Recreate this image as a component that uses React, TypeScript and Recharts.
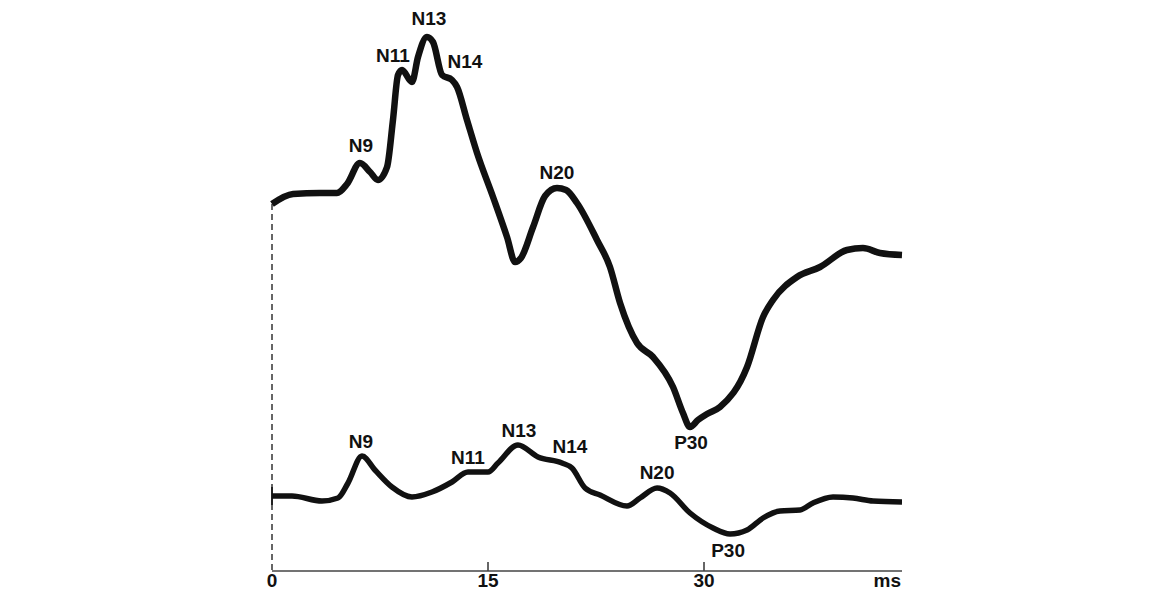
import React from 'react';
import { LineChart, Line, XAxis, YAxis, ReferenceLine, ReferenceDot } from 'recharts';

// upper trace (ms, amplitude in arbitrary units)
const upperT = [0, 1.46, 3.33, 4.51, 5.21, 6.11, 6.81, 7.36, 7.99, 8.4, 8.75, 9.03, 9.72, 10.14, 10.76, 11.18, 11.81, 12.5, 12.85, 13.54, 14.24, 15.35, 16.32, 16.88, 17.29, 18.13, 18.96, 19.79, 20.42, 21.18, 22.57, 23.47, 24.17, 25.35, 26.46, 27.85, 28.54, 29.03, 29.58, 30.21, 31.11, 32.99, 34.1, 34.79, 36.46, 38.06, 39.93, 41.04, 42.22, 43.75];
const upperV = [36.7, 37.7, 37.8, 37.8, 38.7, 40.8, 39.9, 39.1, 40.4, 45.1, 49.6, 50.1, 48.9, 51.4, 53.4, 52.9, 49.6, 49.1, 48.4, 45.1, 41.8, 37.4, 33.4, 30.9, 31.3, 34.4, 37.5, 38.3, 38.1, 36.8, 33.1, 30.4, 26.8, 22.8, 21.4, 18.4, 15.8, 14.4, 15.1, 15.7, 16.4, 20.4, 25.4, 27.1, 29.4, 30.4, 32.1, 32.3, 31.8, 31.6];

// lower trace
const lowerT = [0, 1.39, 3.47, 4.58, 5.28, 6.25, 7.15, 8.33, 9.72, 11.11, 12.5, 13.61, 15.0, 15.69, 17.08, 18.47, 20.14, 20.83, 21.74, 22.78, 24.65, 25.56, 26.74, 27.64, 29.03, 30.63, 31.81, 32.99, 34.1, 35.28, 36.67, 37.57, 38.96, 40.35, 41.74, 43.75];
const lowerV = [7.5, 7.5, 7.0, 7.3, 8.8, 11.5, 10.1, 8.4, 7.4, 7.9, 8.9, 9.9, 9.9, 10.8, 12.6, 11.4, 10.8, 10.3, 8.3, 7.6, 6.5, 7.3, 8.3, 7.8, 5.8, 4.3, 3.7, 4.1, 5.3, 6.0, 6.1, 6.8, 7.4, 7.3, 7.0, 6.9];

// peak labels: [name, ms, amplitude]
const upperLabels: [string, number, number][] = [
  ['N9', 6.18, 42.6],
  ['N11', 8.4, 51.6],
  ['N13', 10.9, 55.3],
  ['N14', 13.4, 51.0],
  ['N20', 19.79, 39.9],
  ['P30', 29.1, 12.9],
];
const lowerLabels: [string, number, number][] = [
  ['N9', 6.18, 13.0],
  ['N11', 13.61, 11.4],
  ['N13', 17.15, 14.1],
  ['N14', 20.69, 12.5],
  ['N20', 26.74, 9.9],
  ['P30', 31.67, 2.1],
];

const xTicks = [0, 15, 30, 43.75];
const innerTicks = [15, 30];

const upperData = upperT.map((t, i) => ({ t, v: upperV[i] }));
const lowerData = lowerT.map((t, i) => ({ t, v: lowerV[i] }));

const AxisTick = (props: any) => {
  const { x, y, payload } = props;
  const isUnit = payload.value > 40;
  return (
    <text
      x={isUnit ? x - 1 : x}
      y={y + 16}
      textAnchor={isUnit ? 'end' : 'middle'}
      fontSize={19}
      fontWeight="bold"
      fill="#111"
    >
      {isUnit ? 'ms' : payload.value}
    </text>
  );
};

const peakLabel = (name: string) => ({
  value: name,
  position: 'center' as const,
  fontSize: 19,
  fontWeight: 'bold',
  fill: '#111',
});

export default function App() {
  return (
    <div style={{ position: 'absolute', left: 0, top: 0, fontFamily: '"Liberation Sans", Arial, sans-serif' }}>
      <LineChart width={1149} height={594} margin={{ top: 31, right: 247, bottom: 0, left: 272 }}>
        <XAxis
          type="number"
          dataKey="t"
          domain={[0, 43.75]}
          ticks={xTicks}
          height={23}
          tickSize={0}
          tickMargin={0}
          tickLine={false}
          axisLine={{ stroke: '#444', strokeWidth: 1.5 }}
          tick={<AxisTick />}
          allowDuplicatedCategory={false}
        />
        <YAxis type="number" domain={[0, 54]} hide />
        <ReferenceLine
          segment={[{ x: 0, y: upperV[0] }, { x: 0, y: 0 }]}
          stroke="#333"
          strokeWidth={1.5}
          strokeDasharray="6 4"
        />
        <ReferenceLine segment={[{ x: 0, y: 6.6 }, { x: 0, y: 8.4 }]} stroke="#222" strokeWidth={2} />
        {innerTicks.map((t) => (
          <ReferenceLine key={t} segment={[{ x: t, y: 0 }, { x: t, y: 0.9 }]} stroke="#333" strokeWidth={1.5} />
        ))}
        <Line
          data={upperData}
          dataKey="v"
          type="monotone"
          stroke="#111"
          strokeWidth={6.5}
          dot={false}
          activeDot={false}
          isAnimationActive={false}
        />
        <Line
          data={lowerData}
          dataKey="v"
          type="monotone"
          stroke="#111"
          strokeWidth={5.5}
          dot={false}
          activeDot={false}
          isAnimationActive={false}
        />
        {upperLabels.concat(lowerLabels).map(([name, t, v], i) => (
          <ReferenceDot
            key={i}
            x={t}
            y={v}
            r={0}
            fill="none"
            stroke="none"
            ifOverflow="visible"
            label={peakLabel(name)}
          />
        ))}
      </LineChart>
    </div>
  );
}
